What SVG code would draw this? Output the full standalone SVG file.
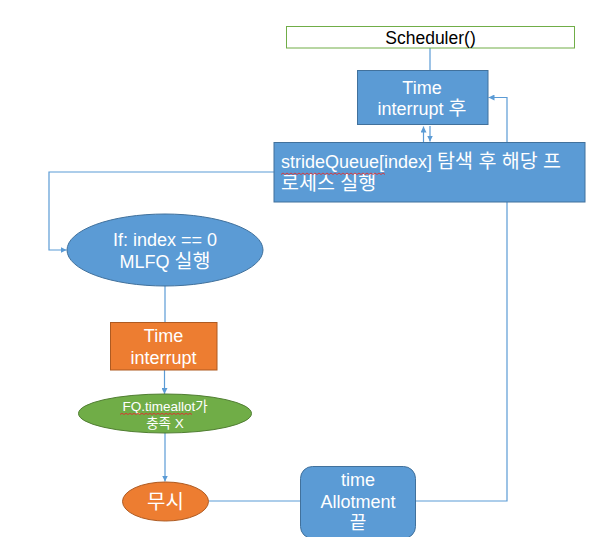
<svg xmlns="http://www.w3.org/2000/svg" width="609" height="537" viewBox="0 0 609 537">
<defs>
<style>
.t{font-family:"Liberation Sans","Noto Sans CJK KR",sans-serif;font-size:18px;fill:#fff;text-anchor:middle}
.k{font-size:19.5px}
.b{fill:#5b9bd5;stroke:#41719c;stroke-width:1}
.o{fill:#ed7d31;stroke:#ae5a21;stroke-width:1}
.g{fill:#70ad47;stroke:#507e32;stroke-width:1}
.c{fill:none;stroke:#5b9bd5;stroke-width:1.2}
.w{fill:none;stroke:#e03030;stroke-width:0.9}
</style>
<marker id="ah" viewBox="0 0 10 10" refX="10" refY="5" markerWidth="6" markerHeight="6" orient="auto" markerUnits="userSpaceOnUse">
<path d="M0,0 L10,5 L0,10 z" fill="#5b9bd5"/>
</marker>
</defs>
<rect width="609" height="537" fill="#fff"/>
<g id="connectors">
<line class="c" x1="430" y1="48" x2="430" y2="70"/>
<line class="c" x1="423.5" y1="142" x2="423.5" y2="126.5" marker-end="url(#ah)"/>
<line class="c" x1="430" y1="126" x2="430" y2="141.5" marker-end="url(#ah)"/>
<polyline class="c" points="274,172 49,172 49,250 66.5,250" marker-end="url(#ah)"/>
<line class="c" x1="165" y1="286" x2="165" y2="322"/>
<line class="c" x1="164.5" y1="370" x2="164.5" y2="394" marker-end="url(#ah)"/>
<line class="c" x1="165" y1="433" x2="165" y2="481.5" marker-end="url(#ah)"/>
<line class="c" x1="208.5" y1="501" x2="300" y2="501"/>
<polyline class="c" points="415,501 507,501 507,97.5 488.5,97.5" marker-end="url(#ah)"/>
</g>
<g id="scheduler">
<rect x="286.5" y="26.5" width="288" height="21.5" fill="#fff" stroke="#70ad47" stroke-width="1"/>
<text class="t" x="430.5" y="43.5" style="fill:#000;font-size:17.5px">Scheduler()</text>
</g>
<g id="time-interrupt-after">
<rect class="b" x="357.5" y="70.5" width="130.5" height="54"/>
<text class="t" x="422" y="93.5">Time</text>
<text class="t" x="422" y="115">interrupt <tspan class="k">후</tspan></text>
</g>
<g id="stride">
<rect class="b" x="274" y="142.5" width="311" height="59.5"/>
<text class="t" x="281" y="168" style="text-anchor:start">strideQueue[index] <tspan class="k">탐색 후 해당 프</tspan></text>
<text class="t" x="281" y="190" style="text-anchor:start"><tspan class="k">로세스 실행</tspan></text>
<path class="w" d="M281,174.5 l2,-1.5 l2,1.5 l2,-1.5 l2,1.5 l2,-1.5 l2,1.5 l2,-1.5 l2,1.5 l2,-1.5 l2,1.5 l2,-1.5 l2,1.5 l2,-1.5 l2,1.5 l2,-1.5 l2,1.5 l2,-1.5 l2,1.5 l2,-1.5 l2,1.5 l2,-1.5 l2,1.5 l2,-1.5 l2,1.5 l2,-1.5 l2,1.5 l2,-1.5 l2,1.5 l2,-1.5 l2,1.5 l2,-1.5 l2,1.5 l2,-1.5 l2,1.5 l2,-1.5 l2,1.5 l2,-1.5 l2,1.5 l2,-1.5 l2,1.5 l2,-1.5 l2,1.5 l2,-1.5 l2,1.5 l2,-1.5 l2,1.5 l2,-1.5 l2,1.5 l2,-1.5 l2,1.5 l2,-1.5 l2,1.5"/>
</g>
<g id="mlfq">
<ellipse class="b" cx="165" cy="250" rx="98" ry="36"/>
<text class="t" x="165" y="246">If: index == 0</text>
<text class="t" x="165" y="268">MLFQ <tspan class="k">실행</tspan></text>
</g>
<g id="time-interrupt">
<rect class="o" x="110.5" y="322.5" width="106.5" height="47.5"/>
<text class="t" x="163.5" y="342">Time</text>
<text class="t" x="163.5" y="363.5">interrupt</text>
</g>
<g id="fq">
<ellipse class="g" cx="165" cy="413.5" rx="86.5" ry="19.5"/>
<text class="t" x="165" y="411" style="font-size:13.5px">FQ.timeallot가</text>
<text class="t" x="165" y="428" style="font-size:13.5px">충족 X</text>
<path class="w" d="M120,414.5 l2,-1.2 l2,1.2 l2,-1.2 l2,1.2 l2,-1.2 l2,1.2 l2,-1.2 l2,1.2 l2,-1.2 l2,1.2 l2,-1.2 l2,1.2 l2,-1.2 l2,1.2 l2,-1.2 l2,1.2 l2,-1.2 l2,1.2 l2,-1.2 l2,1.2 l2,-1.2 l2,1.2 l2,-1.2 l2,1.2 l2,-1.2 l2,1.2 l2,-1.2 l2,1.2 l2,-1.2 l2,1.2 l2,-1.2 l2,1.2 l2,-1.2 l2,1.2 l2,-1.2 l2,1.2"/>
</g>
<g id="ignore">
<ellipse class="o" cx="165.5" cy="501.5" rx="43" ry="19.5"/>
<text class="t" x="165.5" y="509" style="font-size:20px">무시</text>
</g>
<g id="time-allotment">
<rect class="b" x="300.5" y="466.5" width="115" height="72" rx="12" ry="12"/>
<text class="t" x="358" y="486">time</text>
<text class="t" x="358" y="507.5">Allotment</text>
<text class="t" x="358" y="529">끝</text>
</g>
</svg>
